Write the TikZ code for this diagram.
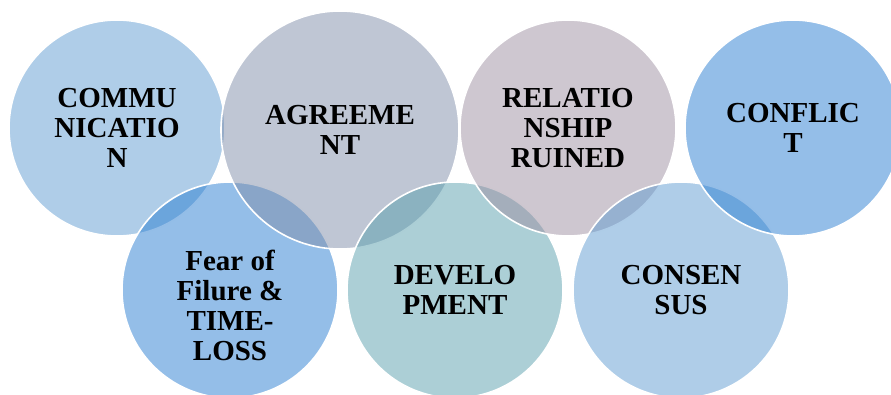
\documentclass[tikz,border=0pt]{standalone}
\usepackage{fontspec}
\setmainfont{Liberation Serif}
\usepackage{tikz}

\definecolor{commblue}{RGB}{95,155,209}
\definecolor{agreegray}{RGB}{127,141,169}
\definecolor{relatmauve}{RGB}{157,143,161}
\definecolor{conflblue}{RGB}{41,125,209}
\definecolor{develteal}{RGB}{89,159,173}

\begin{document}
\begin{tikzpicture}[x=1pt, y=1pt,
    bubble/.style={circle, draw=white, line width=1.6pt, fill opacity=0.5,
        text opacity=1, minimum size=216pt, inner sep=0pt, align=center,
        font=\fontsize{29}{30}\selectfont\bfseries},
    bigbubble/.style={bubble, minimum size=238pt}]
    \useasboundingbox (0, 0) rectangle (891, 394);
    \clip (0, 0) rectangle (891, 394);

    % back to front
    \node[bubble, fill=commblue] (comm) at (117, 266) {COMMU\\NICATIO\\N};
    \node[bubble, fill=conflblue] (fear) at (230, 104) {};
    \node[align=center, font=\fontsize{29}{30}\selectfont\bfseries] (fearlbl)
        at ([yshift=-15]fear.center) {Fear of\\Filure \&\\TIME-\\LOSS};
    \node[bigbubble, fill=agreegray] (agree) at (340, 264) {AGREEME\\NT};
    \node[bubble, fill=develteal] (devel) at (455, 104) {DEVELO\\PMENT};
    \node[bubble, fill=relatmauve] (relat) at (568, 266) {RELATIO\\NSHIP\\RUINED};
    \node[bubble, fill=commblue] (cons) at (681, 104) {CONSEN\\SUS};
    \node[bubble, fill=conflblue] (confl) at (793, 266) {CONFLIC\\T};

\end{tikzpicture}
\end{document}
